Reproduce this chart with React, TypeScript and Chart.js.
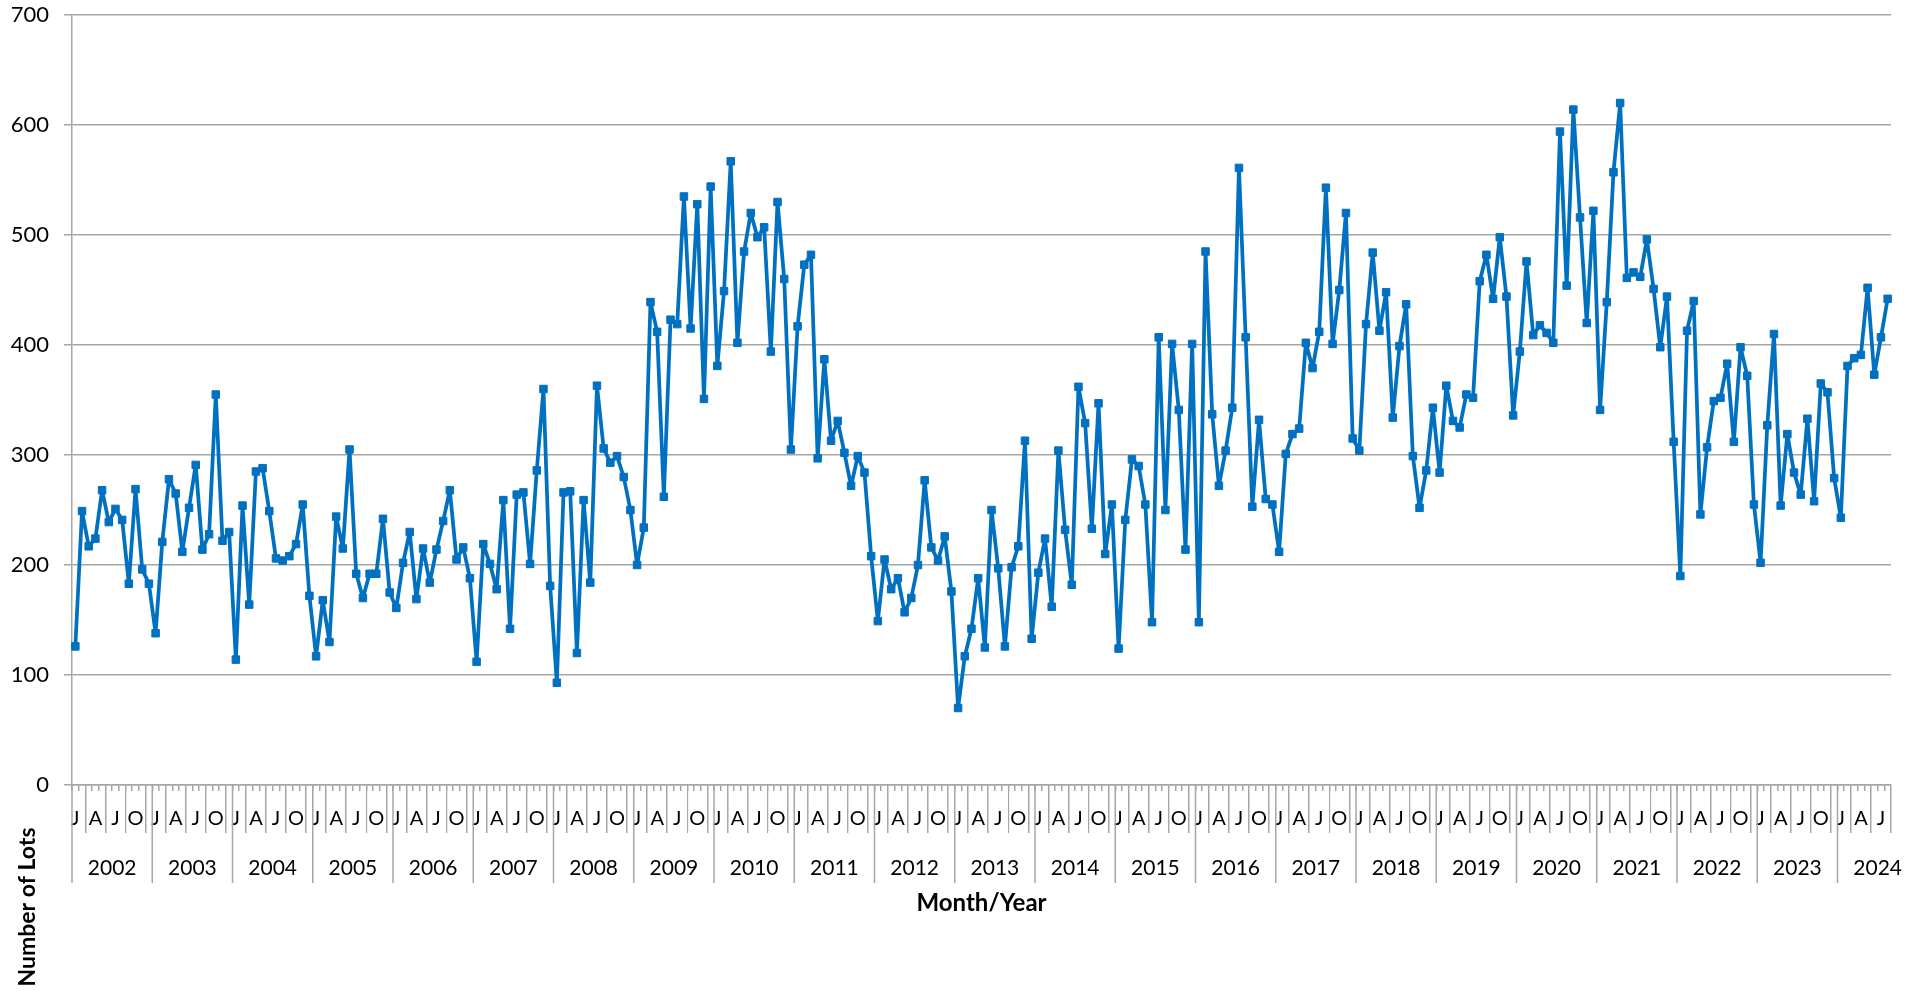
import React, { useEffect, useRef } from 'react';
import { Chart, registerables } from 'chart.js';

Chart.register(...registerables);

// Monthly lot counts, Jan 2002 - Aug 2024
const lots2002 = [126, 249, 217, 224, 268, 239, 251, 241, 183, 269, 196, 183];
const lots2003 = [138, 221, 278, 265, 212, 252, 291, 214, 228, 355, 222, 230];
const lots2004 = [114, 254, 164, 285, 288, 249, 206, 204, 208, 219, 255, 172];
const lots2005 = [117, 168, 130, 244, 215, 305, 192, 170, 192, 192, 242, 175];
const lots2006 = [161, 202, 230, 169, 215, 184, 214, 240, 268, 205, 216, 188];
const lots2007 = [112, 219, 201, 178, 259, 142, 264, 266, 201, 286, 360, 181];
const lots2008 = [93, 266, 267, 120, 259, 184, 363, 306, 293, 299, 280, 250];
const lots2009 = [200, 234, 439, 412, 262, 423, 419, 535, 415, 528, 351, 544];
const lots2010 = [381, 449, 567, 402, 485, 520, 498, 507, 394, 530, 460, 305];
const lots2011 = [417, 473, 482, 297, 387, 313, 331, 302, 272, 299, 284, 208];
const lots2012 = [149, 205, 178, 188, 157, 170, 200, 277, 216, 204, 226, 176];
const lots2013 = [70, 117, 142, 188, 125, 250, 197, 126, 198, 217, 313, 133];
const lots2014 = [193, 224, 162, 304, 232, 182, 362, 329, 233, 347, 210, 255];
const lots2015 = [124, 241, 296, 290, 255, 148, 407, 250, 401, 341, 214, 401];
const lots2016 = [148, 485, 337, 272, 304, 343, 561, 407, 253, 332, 260, 255];
const lots2017 = [212, 301, 319, 324, 402, 379, 412, 543, 401, 450, 520, 315];
const lots2018 = [304, 419, 484, 413, 448, 334, 399, 437, 299, 252, 286, 343];
const lots2019 = [284, 363, 331, 325, 355, 352, 458, 482, 442, 498, 444, 336];
const lots2020 = [394, 476, 409, 418, 411, 402, 594, 454, 614, 516, 420, 522];
const lots2021 = [341, 439, 557, 620, 461, 466, 462, 496, 451, 398, 444, 312];
const lots2022 = [190, 413, 440, 246, 307, 349, 352, 383, 312, 398, 372, 255];
const lots2023 = [202, 327, 410, 254, 319, 284, 264, 333, 258, 365, 357, 279];
const lots2024 = [243, 381, 388, 391, 452, 373, 407, 442];

const lotsByYear = [
  lots2002, lots2003, lots2004, lots2005, lots2006, lots2007, lots2008, lots2009,
  lots2010, lots2011, lots2012, lots2013, lots2014, lots2015, lots2016, lots2017,
  lots2018, lots2019, lots2020, lots2021, lots2022, lots2023, lots2024,
];
const years = lotsByYear.map((_, i) => 2002 + i);
const monthInitials = ['J', '', '', 'A', '', '', 'J', '', '', 'O', '', ''];

const BLUE = '#0070C0';
const GRID = '#a6a6a6';
const FONT = 'Lato';

const labels = lotsByYear.flatMap(row => row.map((_, m) => monthInitials[m]));
const lots = lotsByYear.flat();

// second row of the category axis (years) and the two axis titles
const yearRowPlugin = {
  id: 'yearRow',
  afterDraw(chart: any) {
    const { ctx, scales, chartArea } = chart;
    const x = scales.x;
    const cat = x.getPixelForValue(1) - x.getPixelForValue(0);
    const top = x.top;
    ctx.save();
    ctx.strokeStyle = GRID;
    ctx.lineWidth = 1.5;
    ctx.fillStyle = '#000';
    ctx.font = `21px ${FONT}`;
    ctx.textAlign = 'center';
    ctx.textBaseline = 'alphabetic';
    let start = 0;
    years.forEach((yr, k) => {
      const left = x.getPixelForValue(start) - cat / 2;
      ctx.beginPath();
      ctx.moveTo(left, top);
      ctx.lineTo(left, top + 98);
      ctx.stroke();
      ctx.fillText(String(yr), left + 6 * cat, top + 90);
      start += lotsByYear[k].length;
    });

    ctx.font = `bold 24px ${FONT}`;
    ctx.textBaseline = 'middle';
    ctx.fillText('Month/Year', (chartArea.left + chartArea.right) / 2, 903);
    ctx.translate(28, 907);
    ctx.rotate(-Math.PI / 2);
    ctx.font = `bold 23px ${FONT}`;
    ctx.fillText('Number of Lots', 0, 0);
    ctx.restore();
  },
};

const LotsChart: React.FC = () => {
  const canvasRef = useRef<HTMLCanvasElement>(null);
  const chartRef = useRef<Chart | null>(null);

  useEffect(() => {
    if (!canvasRef.current) return;
    if (chartRef.current) chartRef.current.destroy();

    chartRef.current = new Chart(canvasRef.current, {
      type: 'line',
      data: {
        labels,
        datasets: [
          {
            label: 'Number of Lots',
            data: lots,
            borderColor: BLUE,
            backgroundColor: BLUE,
            borderWidth: 3.75,
            borderJoinStyle: 'round',
            borderCapStyle: 'round',
            tension: 0,
            pointStyle: 'rect',
            pointRadius: 5.3,
            pointBorderWidth: 1,
            pointBackgroundColor: BLUE,
            pointBorderColor: BLUE,
          },
        ],
      },
      options: {
        responsive: true,
        maintainAspectRatio: false,
        animation: false,
        layout: { padding: { left: 0, right: 35, top: 15, bottom: 0 } },
        font: { family: FONT },
        plugins: {
          legend: { display: false },
          tooltip: { enabled: false },
        },
        scales: {
          x: {
            type: 'category',
            offset: true,
            afterFit: (scale: any) => {
              scale.height = 210;
              scale.paddingLeft = 0;
              scale.paddingRight = 0;
            },
            grid: {
              display: true,
              drawOnChartArea: false,
              drawTicks: true,
              tickLength: 48,
              offset: true,
              color: GRID,
              lineWidth: 1.5,
            },
            border: { display: true, color: GRID, width: 1.5 },
            ticks: {
              autoSkip: false,
              maxRotation: 0,
              minRotation: 0,
              padding: -26,
              color: '#000',
              font: { family: FONT, size: 20 },
              showLabelBackdrop: true,
              backdropColor: (c: any) => (c.tick && c.tick.label ? '#ffffff' : 'rgba(0,0,0,0)'),
              backdropPadding: { top: 16, bottom: 16, left: 1, right: 1 },
            },
          },
          y: {
            min: 0,
            max: 700,
            afterFit: (scale: any) => {
              scale.width = 72;
              scale.paddingTop = 0;
              scale.paddingBottom = 0;
            },
            grid: {
              color: GRID,
              lineWidth: 1.5,
              drawTicks: true,
              tickLength: 8,
            },
            border: { display: true, color: GRID, width: 1.5 },
            ticks: {
              stepSize: 100,
              padding: 15,
              color: '#000',
              font: { family: FONT, size: 22 },
            },
          },
        },
      },
      plugins: [yearRowPlugin],
    });

    return () => {
      if (chartRef.current) {
        chartRef.current.destroy();
        chartRef.current = null;
      }
    };
  }, []);

  return (
    <div style={{ position: 'fixed', left: 0, top: 0, width: 1926, height: 995, background: '#fff' }}>
      <canvas ref={canvasRef}></canvas>
    </div>
  );
};

export default function App() {
  return <LotsChart />;
}
